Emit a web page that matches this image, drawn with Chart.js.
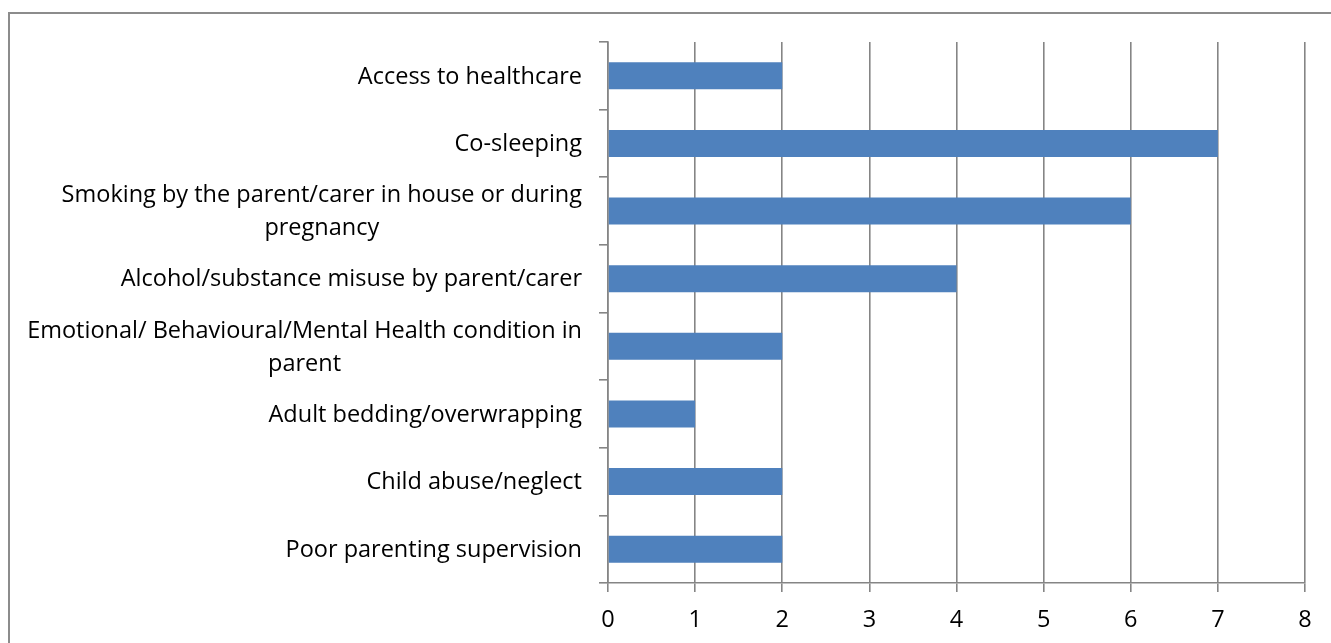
<!DOCTYPE html>
<html>
<head>
<meta charset="utf-8">
<script src="https://cdn.jsdelivr.net/npm/chart.js@4.4.1/dist/chart.umd.min.js"></script>
<style>
  html, body { margin: 0; padding: 0; background: #fff; overflow: hidden; }
  #wrap { position: relative; width: 1331px; height: 643px; }
  #frame { position: absolute; left: 8px; top: 12px; width: 1400px; height: 700px;
           border: 2px solid #8c8c8c; box-sizing: border-box; pointer-events: none; }
  canvas { position: absolute; left: 0; top: 0; }
</style>
</head>
<body>
<div id="wrap">
  <div id="frame"></div>
  <canvas id="c" width="1331" height="643"></canvas>
</div>
<script>
// Risk factors (top to bottom) and number of cases for each
const categories = [
  'Access to healthcare',
  'Co-sleeping',
  ['Smoking by the parent/carer in house or during', 'pregnancy'],
  'Alcohol/substance misuse by parent/carer',
  ['Emotional/ Behavioural/Mental Health condition in', 'parent'],
  'Adult bedding/overwrapping',
  'Child abuse/neglect',
  'Poor parenting supervision'
];
const counts = [2, 7, 6, 4, 2, 1, 2, 2];
const axisMin = 0;
const axisMax = 8;
const axisStep = 1;

const FONT_FAMILY = '"Open Sans", sans-serif';
const FONT_SIZE = 23.5;
const GRID = '#858585';

// Category labels: right-aligned blocks with each line centred inside the block
const categoryLabels = {
  id: 'categoryLabels',
  afterDraw(chart) {
    const ctx = chart.ctx;
    const y = chart.scales.y;
    const right = chart.chartArea.left - 26;
    const lineH = 33;
    ctx.save();
    ctx.font = FONT_SIZE + 'px ' + FONT_FAMILY;
    ctx.fillStyle = '#000';
    ctx.textAlign = 'center';
    ctx.textBaseline = 'middle';
    categories.forEach((lab, i) => {
      const lines = Array.isArray(lab) ? lab : [lab];
      const widest = Math.max(...lines.map(l => ctx.measureText(l).width));
      const cx = right - widest / 2;
      const cy = y.getPixelForValue(i) + 1;
      const top = cy - (lines.length - 1) * lineH / 2;
      lines.forEach((l, k) => ctx.fillText(l, cx, top + k * lineH));
    });
    ctx.restore();
  }
};

new Chart(document.getElementById('c'), {
  type: 'bar',
  data: {
    labels: categories,
    datasets: [{
      data: counts,
      backgroundColor: '#4F81BD',
      borderWidth: 0,
      categoryPercentage: 1,
      barPercentage: 0.4
    }]
  },
  options: {
    indexAxis: 'y',
    responsive: false,
    animation: false,
    events: [],
    layout: { padding: { top: 42, right: 26, bottom: 0, left: 0 } },
    plugins: { legend: { display: false }, tooltip: { enabled: false } },
    scales: {
      x: {
        min: axisMin,
        max: axisMax,
        ticks: {
          stepSize: axisStep,
          color: '#000',
          padding: 14,
          font: { family: FONT_FAMILY, size: FONT_SIZE }
        },
        grid: { color: GRID, lineWidth: 1.6, tickLength: 9, drawTicks: true },
        border: { color: GRID, width: 1.6 },
        afterFit(scale) { scale.height = 60; }
      },
      y: {
        ticks: { display: false },
        grid: { drawOnChartArea: false, color: GRID, lineWidth: 1.6, tickLength: 9, offset: true },
        border: { color: GRID, width: 1.6 },
        afterFit(scale) { scale.width = 608; }
      }
    }
  },
  plugins: [categoryLabels]
});
</script>
</body>
</html>
